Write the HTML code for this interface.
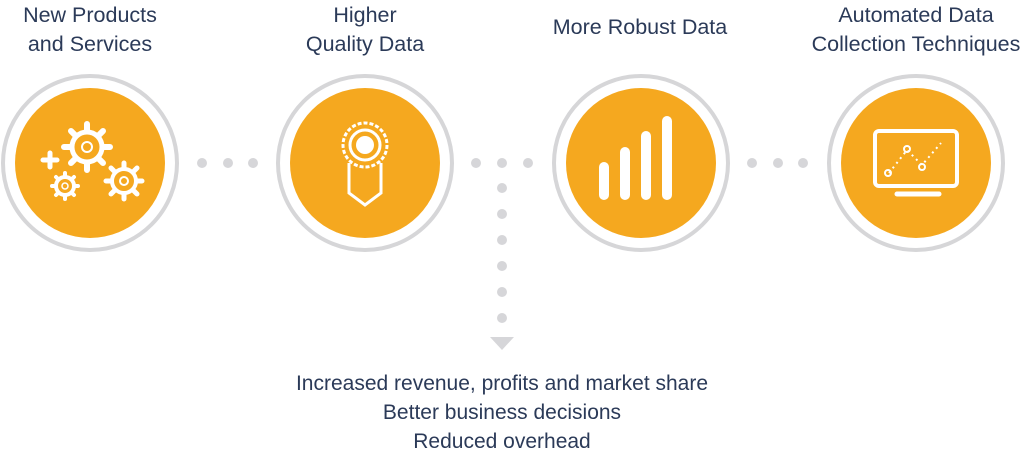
<!DOCTYPE html>
<html><head><meta charset="utf-8"><style>
html,body{margin:0;padding:0;background:#fff;}
body{width:1024px;height:456px;overflow:hidden;position:relative;font-family:"Liberation Sans",sans-serif;color:#2b3a58;}
.t{position:absolute;text-align:center;font-size:21.5px;line-height:29px;width:280px;}
</style></head><body>
<div class="t" style="left:-50px;top:1px;">New Products<br>and Services</div>
<div class="t" style="left:225px;top:1px;">Higher<br>Quality Data</div>
<div class="t" style="left:500px;top:13px;">More Robust Data</div>
<div class="t" style="left:776px;top:1px;">Automated Data<br>Collection Techniques</div>
<svg width="1024" height="456" style="position:absolute;left:0;top:0">
<g fill="none" stroke="#d6d6d8" stroke-width="4">
<circle cx="90" cy="163" r="87"/><circle cx="365" cy="163" r="87"/><circle cx="641" cy="163" r="87"/><circle cx="916" cy="163" r="87"/>
</g>
<g fill="#f5a81f">
<circle cx="90" cy="163" r="75"/><circle cx="365" cy="163" r="75"/><circle cx="641" cy="163" r="75"/><circle cx="916" cy="163" r="75"/>
</g>
<g fill="#d6d6d9">
<circle cx="202" cy="163" r="5"/><circle cx="228" cy="163" r="5"/><circle cx="253" cy="163" r="5"/>
<circle cx="476" cy="163" r="5"/><circle cx="502" cy="163" r="5"/><circle cx="528" cy="163" r="5"/>
<circle cx="752" cy="163" r="5"/><circle cx="778" cy="163" r="5"/><circle cx="803" cy="163" r="5"/>
<circle cx="502" cy="188" r="5"/><circle cx="502" cy="214" r="5"/><circle cx="502" cy="240" r="5"/><circle cx="502" cy="266" r="5"/><circle cx="502" cy="292" r="5"/><circle cx="502" cy="318" r="5"/>
<polygon points="490,337 514,337 502,350"/>
</g>
<g stroke="#fff" fill="none" stroke-linecap="round">
<circle cx="87" cy="147" r="15" stroke-width="5"/>
<g stroke-width="6"><path d="M87 124v6M87 164v6M64 147h6M104 147h6M71 131l4 4M99 159l4 4M71 163l4-4M99 135l4-4"/></g>
<circle cx="87" cy="147" r="5" stroke-width="2"/>
<circle cx="124" cy="181" r="12" stroke-width="4"/>
<g stroke-width="5"><path d="M124 163v5M124 194v5M106 181h5M137 181h5M111 168l3 3M134 191l3 3M111 194l3-3M134 171l3-3"/></g>
<circle cx="124" cy="181" r="4" stroke-width="2"/>
<circle cx="65" cy="186" r="9" stroke-width="4"/>
<g stroke-width="4"><path d="M65 173v3M65 196v3M52 186h3M75 186h3M56 177l2 2M72 193l2 2M56 195l2-2M72 179l2-2"/></g>
<circle cx="65" cy="186" r="3" stroke-width="1.5"/>
<path d="M50 153v14M43 160h14" stroke-width="5"/>
</g>
<g stroke="#fff" fill="none" stroke-width="3">
<circle cx="365" cy="145" r="22" stroke-dasharray="4 2"/>
<circle cx="365" cy="145" r="15"/>
<path d="M349 163v30l16 12 16-12v-30"/>
</g>
<circle cx="365" cy="145" r="9" fill="#fff"/>
<g stroke="#fff" stroke-width="10" stroke-linecap="round">
<path d="M604 167v28M625 152v43M646 136v59M667 121v74"/>
</g>
<g stroke="#fff" fill="none">
<rect x="875" y="131" width="82" height="55" rx="4" stroke-width="4"/>
<path d="M897 194h42" stroke-width="5" stroke-linecap="round"/>
<path d="M889 173l18-23 15 15 19-22" stroke-width="2" stroke-dasharray="2 4"/>
<circle cx="888" cy="173" r="3" stroke-width="2"/><circle cx="907" cy="149" r="3" stroke-width="2"/><circle cx="922" cy="167" r="3" stroke-width="2"/>
</g>
</svg>
<div class="t" style="left:202px;top:369px;width:600px;font-size:21px;">Increased revenue, profits and market share<br>Better business decisions<br>Reduced overhead</div>
</body></html>
